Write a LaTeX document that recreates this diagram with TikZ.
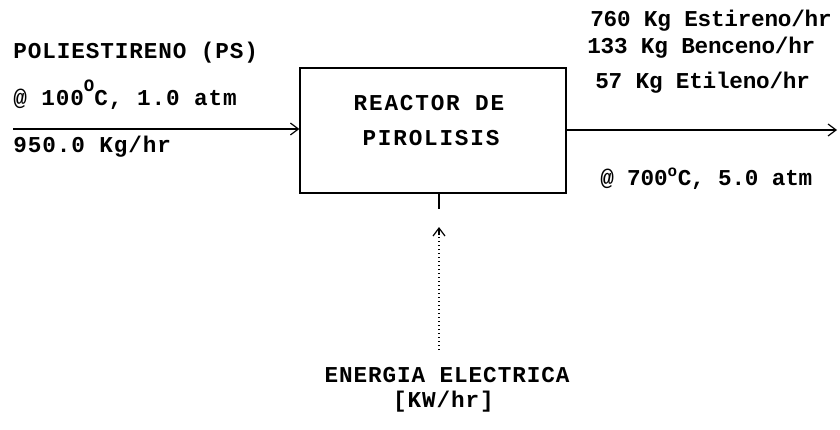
\documentclass[tikz,border=0pt]{standalone}
\usepackage{fontspec}
\setmonofont[LetterSpace=4]{Liberation Mono}
\newfontfamily\monoangosta[LetterSpace=-1]{Liberation Mono}
\newfontfamily\monoancha[LetterSpace=8]{Liberation Mono}
\usetikzlibrary{arrows.meta,positioning,calc}

\begin{document}
\begin{tikzpicture}[
    x=0.75pt, y=-0.75pt,
    texto/.style={font=\ttfamily\bfseries\fontsize{17}{20}\selectfont, inner sep=0pt, anchor=base west},
    angosto/.style={texto, font=\monoangosta\bfseries\fontsize{17}{20}\selectfont},
    ancho/.style={texto, font=\monoancha\bfseries\fontsize{17}{20}\selectfont, anchor=base},
    caja/.style={draw, line width=0.9pt, minimum width=199.5pt, minimum height=93.75pt},
    flecha/.style={-{Straight Barb[length=6pt, width=9pt]}, line width=0.9pt},
    punteado/.style={line width=1.1pt, dash pattern=on 1.1pt off 1.9pt}
]
\useasboundingbox (0,0) rectangle (840,429);

\node[caja] (reactor) at (433,130.5) {};
\node[ancho] (reactor1) at (429,110) {REACTOR DE};
\node[ancho] (reactor2) at (431,145) {PIROLISIS};

% corriente de entrada
\node[texto] (ps) at (13,58) {POLIESTIRENO (PS)};
\node[texto] (tin) at (13,105) {@ 100\raisebox{1.1ex}{\fontsize{13}{13}\selectfont O}C, 1.0 atm};
\node[texto] (flujo) at (13,152) {950.0 Kg/hr};
\coordinate (entrada) at (13,129);
\draw[flecha] (entrada) -- (entrada -| reactor.west);

% corriente de salida
\node[angosto] (estireno) at (590,26) {760 Kg Estireno/hr};
\node[angosto] (benceno) at (587,53) {133 Kg Benceno/hr};
\node[angosto] (etileno) at (595,88) {57 Kg Etileno/hr};
\node[angosto] (tout) at (600,185) {@ 700\textsuperscript{o}C, 5.0 atm};
\coordinate (salida) at (837,130);
\draw[flecha] (salida -| reactor.east) -- (salida);

% energia
\node[texto, anchor=base] (energia) at (447,382) {ENERGIA ELECTRICA};
\node[texto, anchor=base] (kw) at (443.5,407) {[KW/hr]};
\coordinate (base) at ($(reactor.south)+(6,0)$);
\draw[line width=0.9pt] (base) -- ++(0,15) coordinate (soporte);
\coordinate (pie) at (base |- 0,350);
\coordinate (punta) at (base |- 0,227);
\draw[punteado] (pie) -- (punta);
\draw[flecha] ($(punta)+(0,8)$) -- (punta);
\end{tikzpicture}
\end{document}
